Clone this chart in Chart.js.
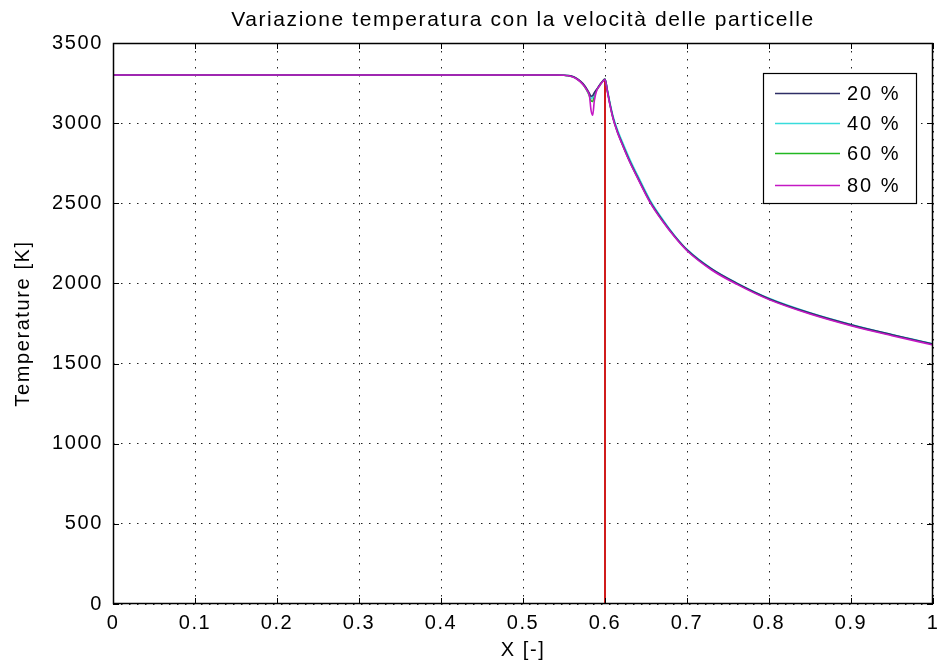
<!DOCTYPE html>
<html>
<head>
<meta charset="utf-8">
<script src="https://cdn.jsdelivr.net/npm/chart.js@4.4.1/dist/chart.umd.min.js"></script>
<style>
html,body{margin:0;padding:0;background:#fff;}
#wrap{width:940px;height:670px;position:relative;}
</style>
</head>
<body>
<div id="wrap"><canvas id="c" width="940" height="670"></canvas></div>
<script>
const xValues = [0, 0.1, 0.2, 0.3, 0.4, 0.5, 0.54, 0.55, 0.555, 0.56, 0.565, 0.57, 0.575, 0.578, 0.581, 0.583, 0.585, 0.587, 0.59, 0.593, 0.596, 0.6, 0.603, 0.606, 0.61, 0.615, 0.62, 0.63, 0.64, 0.655, 0.67, 0.685, 0.7, 0.73, 0.761, 0.8, 0.85, 0.9, 0.95, 1.0];
const temp20 = [3300, 3300, 3300, 3300, 3300, 3300, 3300, 3299, 3297, 3292, 3280, 3262, 3235, 3212, 3185, 3168, 3172, 3190, 3212, 3235, 3255, 3275, 3200, 3120, 3030, 2950, 2885, 2765, 2660, 2510, 2395, 2295, 2210, 2090, 2000, 1905, 1815, 1742, 1680, 1622];
const temp40 = [3300, 3300, 3300, 3300, 3300, 3300, 3300, 3299, 3297, 3291, 3279, 3260, 3232, 3208, 3178, 3155, 3160, 3185, 3210, 3234, 3254, 3274, 3205, 3128, 3040, 2962, 2897, 2778, 2672, 2520, 2402, 2298, 2212, 2092, 2002, 1907, 1817, 1744, 1681, 1623];
const temp60 = [3300, 3300, 3300, 3300, 3300, 3300, 3300, 3299, 3296, 3290, 3278, 3258, 3229, 3203, 3170, 3140, 3135, 3178, 3207, 3232, 3253, 3273, 3198, 3118, 3028, 2948, 2883, 2763, 2658, 2508, 2393, 2293, 2208, 2088, 1998, 1903, 1813, 1740, 1678, 1620];
const temp80 = [3300, 3300, 3300, 3300, 3300, 3300, 3300, 3299, 3296, 3290, 3277, 3257, 3228, 3205, 3170, 3080, 3050, 3140, 3205, 3230, 3252, 3272, 3194, 3114, 3024, 2944, 2879, 2759, 2654, 2504, 2389, 2289, 2204, 2084, 1994, 1899, 1809, 1736, 1674, 1616];
const markerX = [0.6, 0.6];
const markerY = [0, 3270];
const seriesLabels = ['20 %', '40 %', '60 %', '80 %'];
const seriesColors = ['#2e2e66', '#38dcdc', '#22b822', '#c418c4'];
const xTicks = [0, 0.1, 0.2, 0.3, 0.4, 0.5, 0.6, 0.7, 0.8, 0.9, 1];
const yTicks = [0, 500, 1000, 1500, 2000, 2500, 3000, 3500];

const FONT = "'Liberation Sans', Arial, Helvetica, sans-serif";
const pts = (xs, ys) => xs.map((x, i) => ({x: x, y: ys[i]}));
const allSeries = [temp20, temp40, temp60, temp80];

const datasets = [];
const orders = [1, 2, 3, 0];
allSeries.forEach((s, i) => {
  datasets.push({
    label: seriesLabels[i],
    data: pts(xValues, s),
    borderColor: seriesColors[i],
    backgroundColor: seriesColors[i],
    borderWidth: 1.6,
    pointRadius: 0,
    showLine: true,
    cubicInterpolationMode: 'monotone',
    order: orders[i]
  });
});
datasets.push({
  label: 'marker',
  data: pts(markerX, markerY),
  borderColor: '#d01c1c',
  borderWidth: 2,
  pointRadius: 0,
  showLine: true,
  order: 10
});

function setSpacing(chart) {
  try { chart.ctx.letterSpacing = '1.6px'; } catch (e) {}
}

const matlabPlugin = {
  id: 'matlab',
  beforeLayout(chart) { setSpacing(chart); },
  beforeDraw(chart) {
    const ctx = chart.ctx;
    setSpacing(chart);
    ctx.save();
    ctx.fillStyle = '#fff';
    ctx.fillRect(0, 0, chart.width, chart.height);
    ctx.restore();
  },
  afterDraw(chart) {
    const ctx = chart.ctx;
    const a = chart.chartArea;
    const xs = chart.scales.x, ys = chart.scales.y;
    ctx.save();
    ctx.strokeStyle = '#000';
    ctx.lineWidth = 1.5;
    ctx.setLineDash([]);
    ctx.strokeRect(Math.round(a.left) + 0.5, Math.round(a.top) + 0.5, Math.round(a.right - a.left) - 1, Math.round(a.bottom - a.top) - 1);
    const L = 6;
    ctx.lineWidth = 1;
    ctx.beginPath();
    xTicks.forEach(v => {
      const px = Math.round(xs.getPixelForValue(v)) + 0.5;
      ctx.moveTo(px, a.bottom); ctx.lineTo(px, a.bottom - L);
      ctx.moveTo(px, a.top); ctx.lineTo(px, a.top + L);
    });
    yTicks.forEach(v => {
      const py = Math.round(ys.getPixelForValue(v)) + 0.5;
      ctx.moveTo(a.left, py); ctx.lineTo(a.left + L, py);
      ctx.moveTo(a.right, py); ctx.lineTo(a.right - L, py);
    });
    ctx.stroke();

    // title
    ctx.fillStyle = '#000';
    ctx.font = '21px ' + FONT;
    try { ctx.letterSpacing = '1.6px'; } catch (e) {}
    ctx.textAlign = 'center';
    ctx.textBaseline = 'middle';
    ctx.fillText('Variazione temperatura con la velocità delle particelle', (a.left + a.right) / 2, 20);

    // legend
    const bx = 763, by = 73, bw = 153, bh = 130;
    ctx.fillStyle = '#fff';
    ctx.fillRect(bx, by, bw, bh);
    ctx.strokeStyle = '#000';
    ctx.lineWidth = 1.2;
    ctx.strokeRect(bx + 0.5, by + 0.5, bw, bh);
    const rows = [93, 123, 153, 185];
    ctx.font = '20px ' + FONT;
    try { ctx.letterSpacing = '2px'; } catch (e) {}
    seriesLabels.forEach((lab, i) => {
      ctx.strokeStyle = seriesColors[i];
      ctx.lineWidth = 1.6;
      ctx.beginPath();
      ctx.moveTo(bx + 12, rows[i] + 0.5);
      ctx.lineTo(840, rows[i] + 0.5);
      ctx.stroke();
      ctx.fillStyle = '#000';
      ctx.textAlign = 'left';
      ctx.fillText(lab, 847, rows[i] + 1);
    });
    ctx.restore();
  }
};

const tickFont = {family: FONT, size: 20};

new Chart(document.getElementById('c'), {
  type: 'scatter',
  data: {datasets: datasets},
  options: {
    responsive: false,
    animation: false,
    devicePixelRatio: 1,
    layout: {padding: {top: 43, right: 7, left: 0, bottom: 0}},
    plugins: {legend: {display: false}, tooltip: {enabled: false}, title: {display: false}},
    scales: {
      x: {
        type: 'linear', min: 0, max: 1,
        afterBuildTicks(s) { s.ticks = xTicks.map(v => ({value: v})); },
        ticks: {color: '#000', font: tickFont, padding: 7, maxRotation: 0, autoSkip: false,
          callback: v => String(Math.round(v * 10) / 10)},
        grid: {color: '#222', lineWidth: 1, drawTicks: false},
        border: {display: false, dash: [1.5, 6.5]},
        title: {display: true, text: 'X [-]', color: '#000', font: tickFont, padding: {top: 0, bottom: 8}},
        afterFit(s) { s.height = 66; s.paddingRight = 0; s.paddingLeft = 0; }
      },
      y: {
        type: 'linear', min: 0, max: 3500,
        afterBuildTicks(s) { s.ticks = yTicks.map(v => ({value: v})); },
        ticks: {color: '#000', font: tickFont, padding: 10, autoSkip: false,
          callback: v => String(v)},
        grid: {color: '#222', lineWidth: 1, drawTicks: false},
        border: {display: false, dash: [1.5, 6.5]},
        title: {display: true, text: 'Temperature [K]', color: '#000', font: tickFont, padding: {top: 11, bottom: 0}},
        afterFit(s) { s.width = 113; s.paddingTop = 0; s.paddingBottom = 0; }
      }
    }
  },
  plugins: [matlabPlugin]
});
</script>
</body>
</html>
